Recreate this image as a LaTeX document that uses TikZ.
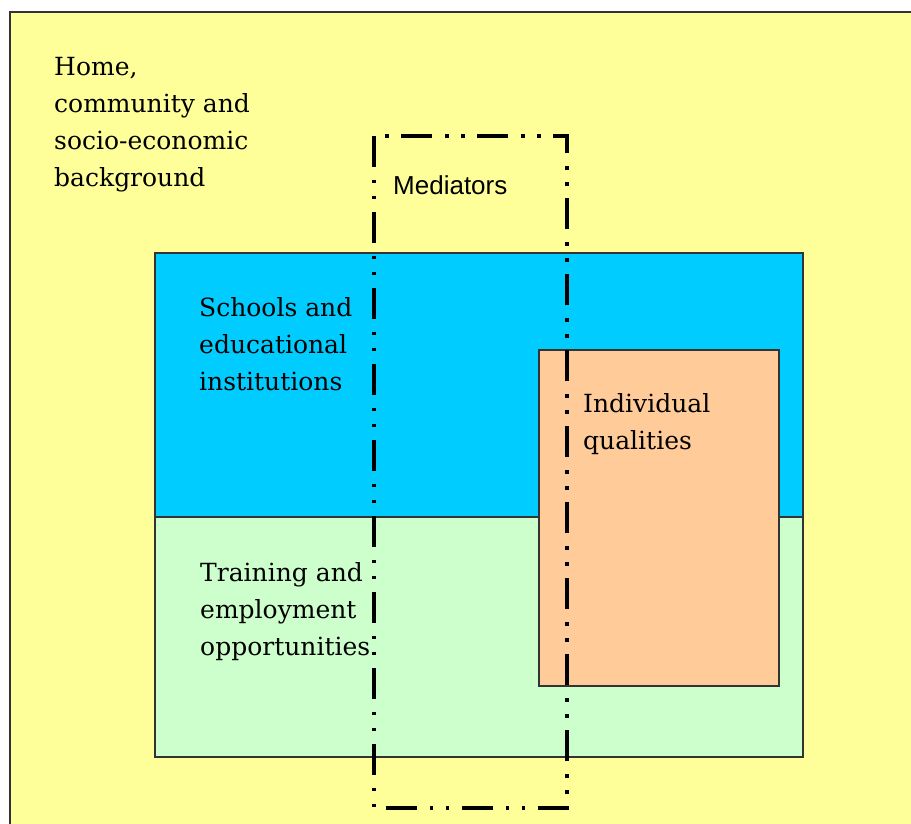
\documentclass[tikz,border=0pt]{standalone}
\usepackage{fontspec}
\setmainfont{DejaVu Serif}
\newfontfamily\mediatorfont{Liberation Sans}
\definecolor{homeyellow}{HTML}{FFFF99}
\definecolor{schoolblue}{HTML}{00CCFF}
\definecolor{traingreen}{HTML}{CCFFCC}
\definecolor{qualorange}{HTML}{FFCC99}
\definecolor{edgegray}{HTML}{333333}

\begin{document}
\begin{tikzpicture}[x=1pt,y=-1pt,
	region/.style={draw=edgegray,line width=1.5pt},
	boxtext/.style={anchor=north west,inner sep=0pt,align=left,font=\fontsize{25}{37}\selectfont},
	mediatorline/.style={line width=3.4pt,dash pattern=on 31pt off 12.5pt on 3.5pt off 12.5pt on 3.5pt off 13pt}]
	\useasboundingbox (0,0) rectangle (911,823);
	\clip (0,0) rectangle (911,823);
	\fill[white] (0,0) rectangle (911,823);
	
	% background regions
	\draw[fill=homeyellow,draw=edgegray,line width=2pt] (10,12) rectangle (940,850);
	\draw[region,fill=schoolblue] (155,253) rectangle (803,517);
	\draw[region,fill=traingreen] (155,517) rectangle (803,757);
	\draw[region,fill=qualorange] (539,350) rectangle (779,686);
	
	% labels
	\node[boxtext] (home) at (54,57) {Home,\\community and\\socio-economic\\background};
	\node[boxtext] (schools) at (199,297) {Schools and\\educational\\institutions};
	\node[boxtext] (training) at (200,562) {Training and\\employment\\opportunities};
	\node[boxtext] (qualities) at (583,393) {Individual\\qualities};
	\node[anchor=base west,inner sep=0pt,font=\mediatorfont\fontsize{26}{30}\selectfont] (mediators) at (393,194) {Mediators};
	
	% mediators frame
	\draw[mediatorline] (374,136) -- (374,808) -- (567,808) -- (567,136) -- cycle;
\end{tikzpicture}
\end{document}
